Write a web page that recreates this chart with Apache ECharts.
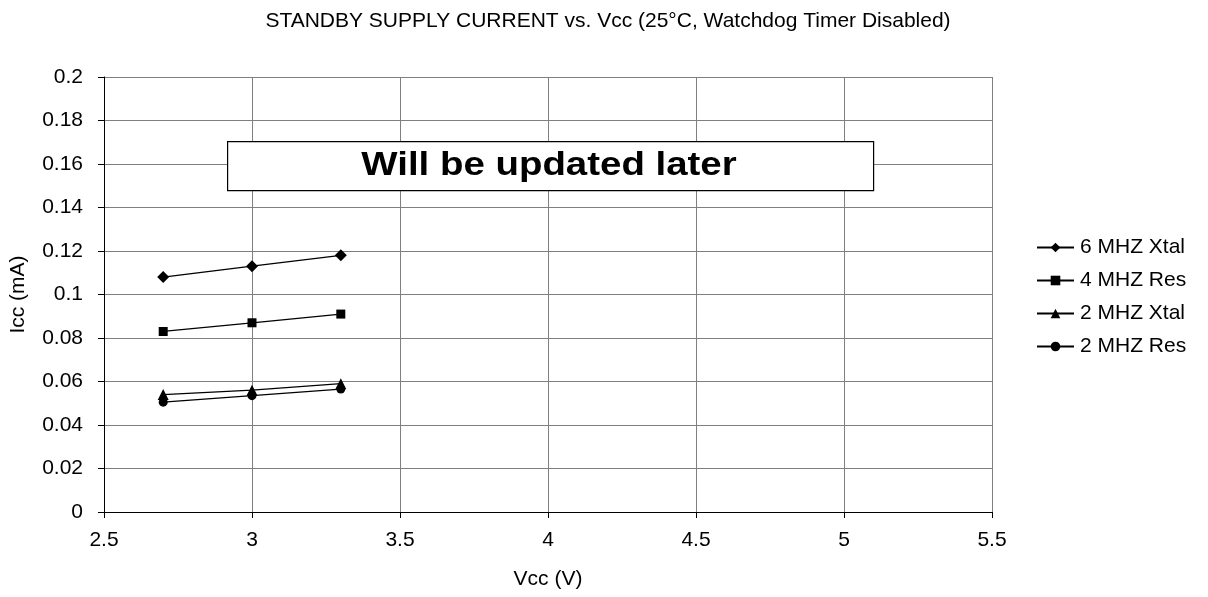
<!DOCTYPE html>
<html>
<head>
<meta charset="utf-8">
<script src="https://cdn.jsdelivr.net/npm/echarts@6/dist/echarts.min.js"></script>
<style>
  html, body { margin: 0; padding: 0; background: #fff; }
  #chart { width: 1208px; height: 597px; }
</style>
</head>
<body>
<div id="chart"></div>
<script>
// Supply voltage points (V)
const vcc = [2.7, 3.0, 3.3];

// Standby current (mA) for each clock source
const seriesNames = ['6 MHZ Xtal', '4 MHZ Res', '2 MHZ Xtal', '2 MHZ Res'];
const xtal6 = [0.108, 0.113, 0.118];
const res4 = [0.083, 0.087, 0.091];
const xtal2 = [0.054, 0.056, 0.059];
const res2 = [0.0505, 0.0535, 0.0565];
const symbols = ['diamond', 'rect', 'triangle', 'circle'];
const symbolSizes = [12, 9, 11, 9];

const titleText = 'STANDBY SUPPLY CURRENT vs. Vcc (25°C, Watchdog Timer Disabled)';
const noteText = 'Will be updated later';

const font = '"Liberation Sans", Arial, sans-serif';
const chart = echarts.init(document.getElementById('chart'));

const values = [xtal6, res4, xtal2, res2];
const series = values.map((arr, i) => ({
  name: seriesNames[i],
  type: 'line',
  data: arr.map((v, j) => [vcc[j], v]),
  symbol: symbols[i],
  symbolSize: symbolSizes[i],
  showAllSymbol: true,
  itemStyle: { color: '#000' },
  lineStyle: { color: '#000', width: 1.3 },
  emphasis: { disabled: true },
  z: 3
}));

chart.setOption({
  animation: false,
  backgroundColor: '#fff',
  textStyle: { fontFamily: font },
  title: {
    text: titleText,
    left: 603,
    textAlign: 'center',
    top: 5,
    textStyle: { fontSize: 21, fontWeight: 'normal', color: '#000', fontFamily: font, lineHeight: 22 }
  },
  grid: {
    left: 104, right: 216, top: 77, bottom: 85,
    containLabel: false,
    outerBoundsMode: 'none'
  },
  xAxis: {
    type: 'value',
    min: 2.5, max: 5.5, interval: 0.5,
    name: 'Vcc (V)',
    nameLocation: 'middle',
    nameGap: 57,
    nameTextStyle: { fontSize: 21, color: '#000', fontFamily: font },
    axisLine: { onZero: false, lineStyle: { color: '#000', width: 1 } },
    axisTick: { show: true, inside: false, length: 6, lineStyle: { color: '#000' } },
    axisLabel: { fontSize: 21, color: '#000', margin: 18, fontFamily: font },
    splitLine: { show: true, lineStyle: { color: '#7f7f7f', width: 1 } }
  },
  yAxis: {
    type: 'value',
    min: 0, max: 0.2, interval: 0.02,
    name: 'Icc (mA)',
    nameLocation: 'middle',
    nameGap: 75,
    nameRotate: 90,
    nameTextStyle: { fontSize: 21, color: '#000', fontFamily: font },
    axisLine: { show: true, lineStyle: { color: '#000', width: 1 } },
    axisTick: { show: true, inside: false, length: 6, lineStyle: { color: '#000' } },
    axisLabel: {
      fontSize: 21, color: '#000', margin: 21, fontFamily: font,
      formatter: v => String(parseFloat(v.toFixed(2)))
    },
    splitLine: { show: true, lineStyle: { color: '#7f7f7f', width: 1 } }
  },
  legend: {
    orient: 'vertical',
    left: 1031,
    top: 232,
    itemWidth: 37,
    itemHeight: 12,
    itemGap: 12,
    data: seriesNames,
    textStyle: { fontSize: 21, color: '#000', fontFamily: font, lineHeight: 21, padding: [0, 0, 0, 1] },
    selectedMode: false
  },
  graphic: [
    {
      type: 'rect',
      left: 227,
      top: 141,
      z: 100,
      shape: { x: 0, y: 0, width: 646, height: 49 },
      style: { fill: '#fff', stroke: '#000', lineWidth: 1.2 }
    },
    {
      type: 'text',
      x: 549,
      y: 166,
      z: 101,
      scaleX: 1.13,
      style: {
        text: noteText,
        fill: '#000',
        font: 'bold 34px "Liberation Sans", Arial, sans-serif',
        textAlign: 'center',
        textVerticalAlign: 'middle'
      }
    }
  ],
  series: series
});
</script>
</body>
</html>
